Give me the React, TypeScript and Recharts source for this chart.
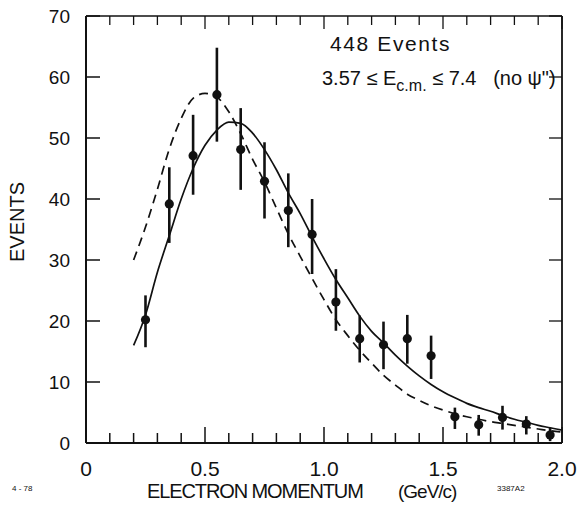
import { ComposedChart, ErrorBar, Line, ReferenceLine, XAxis, YAxis } from "recharts";

// momentum axis (GeV/c): minor tick every 0.1, labelled every 0.5
const momentumTicks = [0, 0.1, 0.2, 0.3, 0.4, 0.5, 0.6, 0.7, 0.8, 0.9, 1.0, 1.1, 1.2, 1.3, 1.4, 1.5, 1.6, 1.7, 1.8, 1.9, 2.0];
const momentumLabels: Record<string, string> = { "0": "0", "0.5": "0.5", "1": "1.0", "1.5": "1.5", "2": "2.0" };
const eventTicks = [0, 10, 20, 30, 40, 50, 60, 70];

// measured spectrum
const binCenters = [0.25, 0.35, 0.45, 0.55, 0.65, 0.75, 0.85, 0.95, 1.05, 1.15, 1.25, 1.35, 1.45, 1.55, 1.65, 1.75, 1.85, 1.95];
const events = [20.2, 39.2, 47.1, 57.1, 48.1, 42.9, 38.1, 34.2, 23.1, 17.1, 16.1, 17.1, 14.3, 4.3, 3.0, 4.2, 3.1, 1.3];
const errDown = [4.5, 6.4, 6.4, 7.7, 6.6, 6.1, 6.0, 6.5, 4.7, 3.9, 4.0, 4.1, 3.8, 2.0, 1.8, 2.0, 1.7, 1.0];
const errUp = [4.0, 6.0, 6.7, 7.7, 6.8, 6.4, 6.1, 5.8, 5.4, 3.8, 3.8, 3.9, 3.3, 1.5, 1.6, 1.9, 1.3, 1.2];

// fitted curves
const curveX = [0.2, 0.25, 0.3, 0.35, 0.4, 0.45, 0.5, 0.55, 0.6, 0.65, 0.7, 0.75, 0.8, 0.85, 0.9, 0.95, 1.0, 1.05, 1.1, 1.15, 1.2, 1.25, 1.3, 1.35, 1.4, 1.45, 1.5, 1.55, 1.6, 1.65, 1.7, 1.75, 1.8, 1.85, 1.9, 1.95, 2.0];
const solidFit = [16, 21, 28, 34, 40, 45, 48.8, 51.3, 52.6, 52.4, 50.8, 48.1, 44.8, 41, 37.6, 33.8, 30.2, 26.8, 23.8, 20.8, 18.3, 16.4, 14.4, 12.6, 11, 9.6, 8.4, 7.4, 6.5, 5.8, 5.2, 4.5, 3.9, 3.4, 2.9, 2.5, 2.1];
const dashedFit = [30, 35.4, 41.6, 48.2, 53.2, 56.5, 57.3, 56.7, 54.3, 50.7, 46.5, 42.8, 38.5, 34.3, 30.6, 27, 23.5, 20.2, 17.6, 15.2, 13.1, 11.1, 9.5, 8.0, 7.0, 6.1, 5.4, 4.8, 4.3, 3.9, 3.5, 3.2, 2.9, 2.6, 2.3, 2.0, 1.8];

const INK = "#111";
const FONT = "'Liberation Sans', Arial, sans-serif";

// inward tick lengths, px -> data units (plot is 476px for 2 GeV/c, 427px for 70 events)
const PX_X = 2 / 476;
const PX_Y = 70 / 427;

const points = binCenters.map((x, i) => ({ x, y: events[i], err: [errDown[i], errUp[i]] }));
const solidData = curveX.map((x, i) => ({ x, y: solidFit[i] }));
const dashedData = curveX.map((x, i) => ({ x, y: dashedFit[i] }));

function labelFor(v: number) {
	return momentumLabels[String(Math.round(v * 10) / 10)];
}

function BottomTick(props: any) {
	const { x, y, payload } = props;
	const label = labelFor(payload.value);
	return (
		<g>
			<path d={`M${x},${y}v${label ? -16 : -10}`} stroke={INK} strokeWidth={1.5} fill="none" />
			{label && (
				<text x={x} y={y + 33} textAnchor="middle" fontSize={21} fill={INK} fontFamily={FONT}>
					{label}
				</text>
			)}
		</g>
	);
}

function LeftTick(props: any) {
	const { x, y, payload } = props;
	return (
		<g>
			<path d={`M${x},${y}h14`} stroke={INK} strokeWidth={1.5} fill="none" />
			<text x={x - 16} y={y + 7} textAnchor="end" fontSize={19} fill={INK} fontFamily={FONT}>
				{payload.value}
			</text>
		</g>
	);
}

function Dot(props: any) {
	const { cx, cy, index } = props;
	return <circle key={index} cx={cx} cy={cy} r={4.6} fill={INK} />;
}

const txt = (left: number, top: number, fontSize: number, extra: any = {}) => ({
	position: "absolute" as const,
	left,
	top,
	fontSize,
	lineHeight: 1,
	whiteSpace: "pre" as const,
	color: INK,
	fontFamily: FONT,
	...extra,
});

export default function App() {
	return (
		<div style={{ position: "absolute", left: 0, top: 0, width: 580, height: 506 }}>
			<div style={txt(330, 32.6, 21, { letterSpacing: 1.6 })}>448 Events</div>
			<div style={txt(322, 68.4, 20)}>
				3.57 ≤ E<span style={{ fontSize: 16, position: "relative", top: 6 }}>c.m.</span> ≤ 7.4   (no ψ")
			</div>
			<div style={txt(-33, 212, 20, { width: 100, textAlign: "center", transform: "rotate(-90deg)" })}>EVENTS</div>
			<div style={txt(147, 481.4, 20, { letterSpacing: -1.1 })}>ELECTRON MOMENTUM</div>
			<div style={txt(398, 482.2, 19, { letterSpacing: -1 })}>(GeV/c)</div>
			<div style={txt(12, 485.4, 8)}>4 - 78</div>
			<div style={txt(497, 485.4, 8)}>3387A2</div>
			<ComposedChart width={580} height={506} margin={{ top: 15, right: 17, bottom: 0, left: 0 }}>
				<XAxis
					xAxisId="bottom"
					type="number"
					dataKey="x"
					domain={[0, 2]}
					ticks={momentumTicks}
					interval={0}
					height={63}
					tickSize={0}
					tickMargin={0}
					tickLine={false}
					axisLine={{ stroke: INK, strokeWidth: 2 }}
					tick={(p: any) => <BottomTick {...p} />}
				/>
				<XAxis
					xAxisId="top"
					orientation="top"
					type="number"
					domain={[0, 2]}
					ticks={momentumTicks}
					height={1}
					tick={false}
					tickLine={false}
					axisLine={{ stroke: INK, strokeWidth: 1.6 }}
				/>
				<YAxis
					yAxisId="left"
					type="number"
					domain={[0, 70]}
					ticks={eventTicks}
					interval={0}
					width={86}
					tickSize={0}
					tickMargin={0}
					tickLine={false}
					axisLine={{ stroke: INK, strokeWidth: 2 }}
					tick={(p: any) => <LeftTick {...p} />}
				/>
				<YAxis
					yAxisId="right"
					orientation="right"
					type="number"
					domain={[0, 70]}
					ticks={eventTicks}
					width={1}
					tick={false}
					tickLine={false}
					axisLine={{ stroke: INK, strokeWidth: 1.8 }}
				/>
				{momentumTicks.map((t) => (
					<ReferenceLine
						key={`t${t}`}
						xAxisId="bottom"
						yAxisId="left"
						segment={[{ x: t, y: 70 }, { x: t, y: 70 - (labelFor(t) ? 13 : 9) * PX_Y }]}
						stroke={INK}
						strokeWidth={1.3}
					/>
				))}
				{eventTicks.map((t) => (
					<ReferenceLine
						key={`r${t}`}
						xAxisId="bottom"
						yAxisId="left"
						segment={[{ x: 2, y: t }, { x: 2 - 13 * PX_X, y: t }]}
						stroke={INK}
						strokeWidth={1.3}
					/>
				))}
				<Line
					xAxisId="bottom"
					yAxisId="left"
					data={dashedData}
					dataKey="y"
					type="monotone"
					stroke={INK}
					strokeWidth={1.7}
					strokeDasharray="9 6"
					dot={false}
					activeDot={false}
					isAnimationActive={false}
				/>
				<Line
					xAxisId="bottom"
					yAxisId="left"
					data={solidData}
					dataKey="y"
					type="monotone"
					stroke={INK}
					strokeWidth={1.7}
					dot={false}
					activeDot={false}
					isAnimationActive={false}
				/>
				<Line
					xAxisId="bottom"
					yAxisId="left"
					data={points}
					dataKey="y"
					stroke="none"
					dot={Dot}
					activeDot={false}
					isAnimationActive={false}
				>
					<ErrorBar dataKey="err" direction="y" width={0} stroke={INK} strokeWidth={2.6} isAnimationActive={false} />
				</Line>
			</ComposedChart>
		</div>
	);
}
